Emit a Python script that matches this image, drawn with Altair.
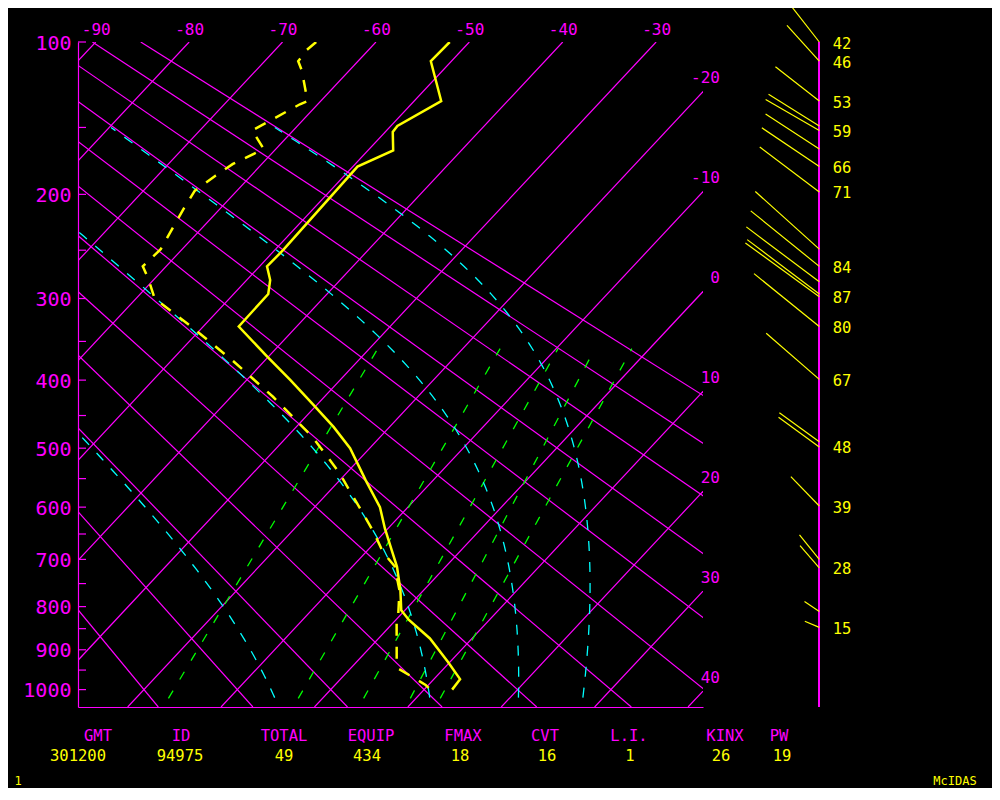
import math
import pandas as pd
import altair as alt

# ---------------- sounding data ----------------
TEMP_P = [100, 110, 133, 149, 153, 166, 178, 250, 266, 280, 295, 332, 368, 400,
          435, 467, 500, 553, 600, 640, 682, 715, 764, 808, 830, 873, 930, 973, 1000]
TEMP_T = [-52.1, -52.2, -47.1, -49.3, -49.2, -47.3, -49.5, -49.1, -49.2, -47.5, -46.3,
          -46.2, -40.3, -35.3, -30.3, -26.0, -22.1, -17.2, -13.0, -10.3, -7.4, -5.2,
          -2.5, -0.4, 1.4, 5.5, 9.8, 12.8, 13.0]
DEW_P = [100, 104, 110, 115, 127, 133, 135, 152, 165, 176, 185, 197, 212, 230, 249,
         266, 275, 284, 300, 334, 375, 423, 482, 539, 576, 609, 646, 685, 714, 764,
         815, 835, 925, 946, 988, 1000]
DEW_T = [-66.4, -66.6, -66.4, -65.1, -62.6, -61.4, -61.9, -64.4, -61.3, -63.1, -63.8,
         -64.5, -63.9, -63.1, -62.3, -62.5, -61.2, -60.0, -58.0, -50.9, -43.3, -35.5,
         -27.3, -20.9, -17.4, -14.4, -11.2, -8.2, -5.5, -2.6, -0.4, 0.3, 4.1, 5.1, 9.7, 10.7]

# winds: level (hPa), direction (deg), speed (kt), printed label
WIND_P = [100, 110, 133, 149, 152, 165, 178, 198, 249, 266, 282, 295, 298, 332,
          399, 490, 498, 598, 700, 717, 811, 847]
WIND_DIR = [322, 318, 308, 302, 300, 303, 304, 307, 312, 309, 307, 307, 306, 309,
            311, 306, 306, 316, 321, 319, 304, 293]
WIND_SPD = [42, 46, 53, 57, 59, 61, 66, 71, 82, 84, 87, 86, 87, 80,
            67, 47, 48, 39, 30, 28, 17, 15]
WIND_LBL = ["42", "46", "53", "", "59", "", "66", "71", "", "84", "", "", "87", "80",
            "67", "", "48", "39", "", "28", "", "15"]

# stability indices
IDX_NAMES = ["GMT", "ID", "TOTAL", "EQUIP", "FMAX", "CVT", "L.I.", "KINX", "PW"]
IDX_VALUES = ["301200", "94975", "49", "434", "18", "16", "1", "26", "19"]

# reference lines of the diagram
ISOTHERMS = list(range(-100, 50, 10))
DRY_THETA = list(range(-30, 100, 10))
MOIST_TBOT = [-5.2, 11.4, 20.9, 27.8]          # saturated adiabats, temperature at 1021 hPa
MIX_TBOT = [-16.5, -2.6, 4.4, 9.4, 12.6]        # mixing-ratio lines, temperature at 1023 hPa
MIX_TTOP = [-29.1, -16.0, -9.8, -5.85, -1.9]    # same lines, temperature at 359 hPa
MIX_P = [1023, 359]
TOP_TICKS = list(range(-90, -20, 10))
RIGHT_TICKS = list(range(-20, 50, 10))
P_LABELS = list(range(100, 1100, 100))
P_TICKS = list(range(100, 1050, 50))

# ---------------- layout / style ----------------
MAG, YEL, CYA, GRN = "#ff00ff", "#ffff00", "#00ffff", "#00ff00"
FONT = "DejaVu Sans Mono"
K = 0.286
P0K = 100 ** K
SKEW = 18.64
X_MIN, X_MAX = -91.9, -24.98
P_TOP, P_BOT = 100, 1046
W, H = 625, 665
PAD = {"left": 70, "top": 34, "right": 289, "bottom": 81}
STAFF_X = 741.3
IDX_NAME_X = [98, 181, 284, 371, 463, 545, 629, 725, 779]
IDX_VAL_X = [78, 180, 284, 367, 460, 547, 630, 721, 782]
OX, OY = 78, 42
C_MOIST = 2.465

XS = f"datum.t - {SKEW}*(pow(datum.p, {K}) - {P0K})"
xscale = alt.Scale(domain=[X_MIN, X_MAX], nice=False, zero=False)
yscale = alt.Scale(type="pow", exponent=K, domain=[P_TOP, P_BOT], reverse=True,
                   nice=False, zero=False)

# ---------------- build tables ----------------
def two_point(vals, fn):
    rows = []
    for v in vals:
        for i, p in enumerate([P_TOP, P_BOT]):
            rows.append({"id": v, "i": i, "p": p, "t": fn(v, p)})
    return pd.DataFrame(rows)

iso_df = two_point(ISOTHERMS, lambda v, p: v)
dry_df = two_point(DRY_THETA, lambda v, p: (v + 273.15) * (p / 1000.0) ** K - 273.15)


def ws_gkg(T, p):
    es = 6.112 * math.exp(17.67 * (T - 273.15) / (T - 29.65))
    return 622.0 * es / (p - es)


def theta_s(T, p):
    return T * (1000.0 / p) ** K * math.exp(C_MOIST * ws_gkg(T, p) / T)


def solve_T(ths, p):
    lo, hi = 150.0, 305.0
    for _ in range(60):
        mid = 0.5 * (lo + hi)
        if theta_s(mid, p) > ths:
            hi = mid
        else:
            lo = mid
    return 0.5 * (lo + hi)

rows = []
for tb in MOIST_TBOT:
    ths = theta_s(tb + 273.15, 1021.0)
    n = 90
    for i in range(n + 1):
        p = 1021.0 - i * (1021.0 - 150.0) / n
        rows.append({"id": tb, "i": i, "p": p, "t": solve_T(ths, p) - 273.15})
moist_df = pd.DataFrame(rows)

rows = []
for j, (tb, tt) in enumerate(zip(MIX_TBOT, MIX_TTOP)):
    rows.append({"id": j, "i": 0, "p": MIX_P[0], "t": tb})
    rows.append({"id": j, "i": 1, "p": MIX_P[1], "t": tt})
mix_df = pd.DataFrame(rows)

temp_df = pd.DataFrame({"p": TEMP_P, "t": TEMP_T, "i": range(len(TEMP_P)), "id": 0})
dew_df = pd.DataFrame({"p": DEW_P, "t": DEW_T, "i": range(len(DEW_P)), "id": 0})
wind_df = pd.DataFrame({"p": WIND_P, "dir": WIND_DIR, "spd": WIND_SPD, "lbl": WIND_LBL})
right_df = pd.DataFrame({"t": RIGHT_TICKS, "lbl": [str(v) for v in RIGHT_TICKS]})
ptick_df = pd.DataFrame({"p": P_TICKS})
names_df = pd.DataFrame({"txt": IDX_NAMES, "px": [x - OX for x in IDX_NAME_X], "py": 734.7 - OY})
vals_df = pd.DataFrame({"txt": IDX_VALUES, "px": [x - OX for x in IDX_VAL_X], "py": 755 - OY})
foot_df = pd.DataFrame({"txt": ["1", "McIDAS"], "px": [18 - OX, 955 - OX], "py": [780 - OY, 780 - OY]})

# ---------------- axes ----------------
top_axis = alt.Axis(orient="top", values=TOP_TICKS, labelExpr="'' + datum.value",
                    domain=False, ticks=False, tickSize=0, grid=False, labelColor=MAG,
                    labelFont=FONT, labelFontSize=16, labelPadding=8,
                    labelBaseline="alphabetic", title=None)
bottom_axis = alt.Axis(orient="bottom", labels=False, ticks=False, tickSize=0,
                       domain=True, domainColor=MAG, domainWidth=1.2, grid=False, title=None)
left_axis = alt.Axis(orient="left", values=P_LABELS, labelExpr="'' + datum.value",
                     domain=True, domainColor=MAG, domainWidth=1.2, ticks=False, tickSize=0,
                     grid=False, labelColor=MAG, labelFont=FONT, labelFontSize=20,
                     labelPadding=7, labelOffset=1, title=None)


def skew_line(df, color, width=1.0, dash=None, x_axis=None, y_axis=None):
    mk = dict(color=color, strokeWidth=width, clip=True)
    if dash:
        mk["strokeDash"] = dash
    return alt.Chart(df).mark_line(**mk).transform_calculate(xs=XS).encode(
        x=alt.X("xs:Q", scale=xscale, axis=x_axis),
        y=alt.Y("p:Q", scale=yscale, axis=y_axis),
        detail="id:N",
        order="i:Q",
    )

iso = skew_line(iso_df, MAG, 1.2, x_axis=top_axis, y_axis=left_axis)
dry = skew_line(dry_df, MAG, 1.2, x_axis=bottom_axis)
mix = skew_line(mix_df, GRN, 1.3, dash=[9, 13])
moist = skew_line(moist_df, CYA, 1.3, dash=[10, 11])
dew = skew_line(dew_df, YEL, 2.5, dash=[12, 11])
temp = skew_line(temp_df, YEL, 2.5)

pticks = alt.Chart(ptick_df).mark_rule(color=MAG, strokeWidth=1.2).encode(
    y=alt.Y("p:Q", scale=yscale, axis=None), x=alt.value(0), x2=alt.value(8))

right_lbl = alt.Chart(right_df).mark_text(
    align="right", baseline="middle", dx=17, dy=-13.5, color=MAG, font=FONT, fontSize=16
).transform_calculate(
    pl=f"pow({P0K} + (datum.t - ({X_MAX}))/{SKEW}, {1 / K})", xs=f"{X_MAX}"
).encode(
    x=alt.X("xs:Q", scale=xscale, axis=None),
    y=alt.Y("pl:Q", scale=yscale, axis=None),
    text="lbl:N",
)

staff = alt.Chart(ptick_df).mark_rule(color=MAG, strokeWidth=1.2).encode(
    x=alt.value(STAFF_X), y=alt.value(0), y2=alt.value(H))

sticks = alt.Chart(wind_df).mark_point(
    shape="M0,0L0,-1", filled=False, stroke=YEL, strokeWidth=1.2, opacity=1
).transform_calculate(sz="4*pow(1.05*datum.spd, 2)").encode(
    x=alt.value(STAFF_X),
    y=alt.Y("p:Q", scale=yscale, axis=None),
    angle=alt.Angle("dir:Q", scale=None),
    size=alt.Size("sz:Q", scale=None),
)

wind_lbl = alt.Chart(wind_df).transform_filter("datum.lbl != ''").mark_text(
    align="left", baseline="middle", dx=13.4, dy=1.5, color=YEL, font=FONT, fontSize=15.5
).encode(
    x=alt.value(STAFF_X),
    y=alt.Y("p:Q", scale=yscale, axis=None),
    text="lbl:N",
)


def text_layer(df, color, size):
    return alt.Chart(df).mark_text(
        align="center", baseline="middle", dy=1, color=color, font=FONT, fontSize=size
    ).encode(
        x=alt.X("px:Q", scale=None, axis=None),
        y=alt.Y("py:Q", scale=None, axis=None),
        text="txt:N",
    )

names = text_layer(names_df, MAG, 15.5)
vals = text_layer(vals_df, YEL, 15.5)
foot = text_layer(foot_df, YEL, 12)

chart = alt.layer(
    iso, dry, mix, moist, dew, temp, pticks, right_lbl, staff, sticks, wind_lbl,
    names, vals, foot
).resolve_axis(x="independent", y="independent").properties(
    width=W, height=H,
    autosize=alt.AutoSizeParams(type="none"),
    padding=PAD,
).configure(background="black").configure_view(strokeWidth=0)

chart.save("out.html", embed_options={"renderer": "svg", "actions": False})
